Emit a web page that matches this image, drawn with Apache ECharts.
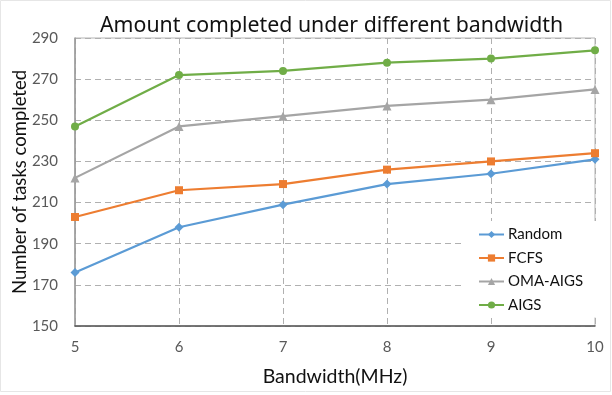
<!DOCTYPE html>
<html>
<head>
<meta charset="utf-8">
<script src="https://cdn.jsdelivr.net/npm/echarts@6/dist/echarts.min.js"></script>
<style>html,body{margin:0;padding:0;background:#fff}#c{width:612px;height:395px}</style>
</head>
<body>
<div id="c"></div>
<script>
const bandwidth = [5, 6, 7, 8, 9, 10];
const random = [176, 198, 209, 219, 224, 231];
const fcfs = [203, 216, 219, 226, 230, 234];
const omaAigs = [222, 247, 252, 257, 260, 265];
const aigs = [247, 272, 274, 278, 280, 284];
const seriesNames = ['Random', 'FCFS', 'OMA-AIGS', 'AIGS'];
const yTicks = [150, 170, 190, 210, 230, 250, 270, 290];

const FONT = 'Lato, "Open Sans", sans-serif';
const chart = echarts.init(document.getElementById('c'));
function pts(arr) { return bandwidth.map((x, i) => [x, arr[i]]); }
function mk(name, data, color, symbol, size) {
  return {
    name, type: 'line', data: pts(data), symbol, symbolSize: size,
    lineStyle: { color, width: 2.2 }, itemStyle: { color },
    z: 5
  };
}
chart.setOption({
  animation: false,
  backgroundColor: '#fff',
  title: {
    text: 'Amount completed under different bandwidth',
    left: 95, top: 10,
    textStyle: { fontFamily: '"Noto Sans", sans-serif', fontSize: 21.3, fontWeight: 'normal', color: '#111' }
  },
  grid: { left: 75, right: 17, top: 38, bottom: 69, show: true, borderColor: '#b5b5b5', borderWidth: 1, containLabel: false, outerBoundsMode: 'none' },
  legend: {
    orient: 'vertical', left: 462, top: 221,
    data: seriesNames,
    itemWidth: 25, itemHeight: 9, itemGap: 8.5,
    backgroundColor: '#fff', padding: [6, 14, 5, 16],
    textStyle: { fontFamily: FONT, fontSize: 15, color: '#111', padding: [0, 0, 0, -1] }
  },
  xAxis: {
    type: 'value', min: 5, max: 10, interval: 1,
    name: 'Bandwidth(MHz)', nameLocation: 'middle', nameGap: 41, nameMoveOverlap: false,
    nameTextStyle: { fontFamily: FONT, fontSize: 19.5, color: '#111' },
    axisLine: { lineStyle: { color: '#555', width: 1.5 } },
    axisTick: { show: false },
    axisLabel: { fontFamily: FONT, fontSize: 15, color: '#595959', margin: 14 },
    splitLine: { show: true, lineStyle: { color: '#b0b0b0', type: [6, 4], width: 1 } }
  },
  yAxis: {
    type: 'value', min: yTicks[0], max: yTicks[yTicks.length - 1], interval: 20,
    name: 'Number of tasks completed', nameLocation: 'middle', nameGap: 45, nameMoveOverlap: false,
    nameTextStyle: { fontFamily: FONT, fontSize: 18.5, color: '#111' },
    axisLine: { show: true, lineStyle: { color: '#999', width: 1.5 } },
    axisTick: { show: false },
    axisLabel: { fontFamily: FONT, fontSize: 15, color: '#595959', margin: 17 },
    splitLine: { show: true, lineStyle: { color: '#b0b0b0', type: [6, 4], width: 1 } }
  },
  graphic: [{
    type: 'rect', shape: { x: 0.5, y: 0.5, width: 610, height: 391 },
    style: { fill: 'none', stroke: '#e6e6e6', lineWidth: 1 }, silent: true
  }],
  series: [
    mk('Random', random, '#5B9BD5', 'diamond', 9),
    mk('FCFS', fcfs, '#ED7D31', 'rect', 8),
    mk('OMA-AIGS', omaAigs, '#A5A5A5', 'triangle', 9),
    mk('AIGS', aigs, '#70AD47', 'circle', 8)
  ]
});
</script>
</body>
</html>
